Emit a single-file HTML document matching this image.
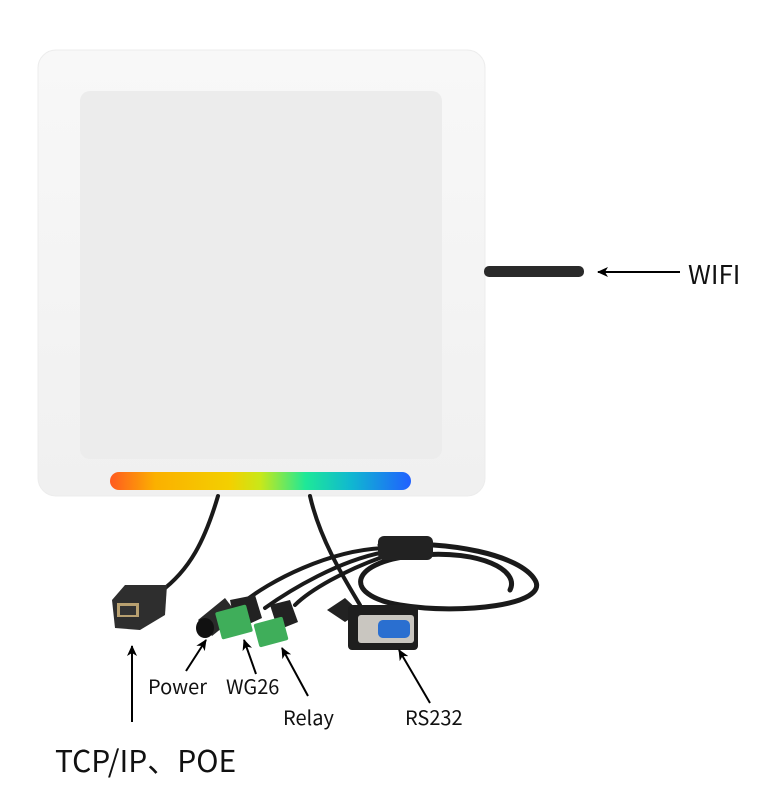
<!DOCTYPE html>
<html><head><meta charset="utf-8"><style>
html,body{margin:0;padding:0;background:#fff;width:760px;height:788px;overflow:hidden}
svg{display:block}
text{font-family:"Noto Sans CJK SC","Liberation Sans",sans-serif;fill:#111}
</style></head><body>
<svg width="760" height="788" viewBox="0 0 760 788" xmlns="http://www.w3.org/2000/svg">
<defs>
<linearGradient id="bar" x1="0" x2="1" y1="0" y2="0">
<stop offset="0" stop-color="#ff5a20"/><stop offset="0.15" stop-color="#fbb000"/>
<stop offset="0.4" stop-color="#f3d000"/><stop offset="0.5" stop-color="#c8e81a"/>
<stop offset="0.65" stop-color="#1ee898"/><stop offset="0.8" stop-color="#10b8d0"/>
<stop offset="1" stop-color="#2060ff"/></linearGradient>
<linearGradient id="frame" x1="0" x2="0" y1="0" y2="1">
<stop offset="0" stop-color="#f8f8f8"/><stop offset="1" stop-color="#f0f0f0"/></linearGradient>
<marker id="ah" markerWidth="12" markerHeight="10" refX="10" refY="5" orient="auto" markerUnits="userSpaceOnUse">
<path d="M0,0 L11,5 L0,10 L3,5 Z" fill="#000"/></marker>
</defs>
<rect x="38" y="50" width="447" height="446" rx="18" fill="url(#frame)"/>
<rect x="38" y="50" width="447" height="446" rx="18" fill="none" stroke="#ececec" stroke-width="1"/>
<rect x="80" y="91" width="362" height="368" rx="10" fill="#ececec"/>
<rect x="110" y="472" width="301" height="18" rx="9" fill="url(#bar)"/>
<rect x="484" y="266" width="100" height="11" rx="5" fill="#2a2a2a"/>
<line x1="680" y1="272" x2="598" y2="272" stroke="#000" stroke-width="2" marker-end="url(#ah)"/>
<text x="688" y="284" font-size="26">WIFI</text>
<g fill="none" stroke="#1a1a1a" stroke-linecap="round">
<path d="M218,496 C205,540 190,570 160,592" stroke-width="4"/>
<path d="M310,496 C320,540 345,580 360,605" stroke-width="4"/>
<path d="M380,545 C450,540 520,555 535,580 C550,605 460,615 400,605 C340,595 350,560 420,555 C480,550 520,570 510,590" stroke-width="5"/>
<path d="M385,548 C330,550 270,580 240,605" stroke-width="4"/>
<path d="M385,552 C340,560 290,590 265,608" stroke-width="4"/>
<path d="M385,556 C345,570 310,590 295,605" stroke-width="4"/>
</g>
<rect x="378" y="536" width="55" height="24" rx="6" fill="#222"/>
<polygon points="112,600 125,585 167,585 165,615 140,630 115,628" fill="#2e2e2e"/>
<rect x="117" y="603" width="22" height="14" fill="#b8a070"/>
<rect x="120" y="606" width="16" height="9" fill="#333"/>
<path d="M198,620 L225,598 L238,615 L212,636 Z" fill="#2a2a2a"/>
<ellipse cx="205" cy="628" rx="9" ry="10" fill="#111"/>
<path d="M230,600 L255,595 L262,618 L236,630 Z" fill="#222"/>
<rect x="218" y="608" width="32" height="28" rx="2" fill="#3fae5a" transform="rotate(-15 234 622)"/>
<path d="M270,605 L290,600 L298,622 L278,630 Z" fill="#222"/>
<rect x="256" y="620" width="30" height="24" rx="2" fill="#3fae5a" transform="rotate(-15 271 632)"/>
<path d="M327,610 L345,598 L360,612 L345,622 Z" fill="#222"/>
<rect x="348" y="605" width="70" height="45" rx="4" fill="#1e1e1e"/>
<rect x="358" y="615" width="56" height="28" rx="3" fill="#c9c6c0"/>
<rect x="378" y="620" width="32" height="18" rx="5" fill="#2a6fd0"/>
<g stroke="#000" stroke-width="2">
<line x1="132" y1="722" x2="132" y2="646" marker-end="url(#ah)"/>
<line x1="186" y1="671" x2="206" y2="640" marker-end="url(#ah)"/>
<line x1="256" y1="674" x2="244" y2="640" marker-end="url(#ah)"/>
<line x1="308" y1="696" x2="282" y2="648" marker-end="url(#ah)"/>
<line x1="430" y1="703" x2="399" y2="650" marker-end="url(#ah)"/>
</g>
<text x="148" y="694" font-size="20">Power</text>
<text x="226" y="694" font-size="20">WG26</text>
<text x="283" y="725" font-size="20">Relay</text>
<text x="405" y="725" font-size="20">RS232</text>
<text x="55" y="772" font-size="30">TCP/IP、POE</text>
</svg>
</body></html>
